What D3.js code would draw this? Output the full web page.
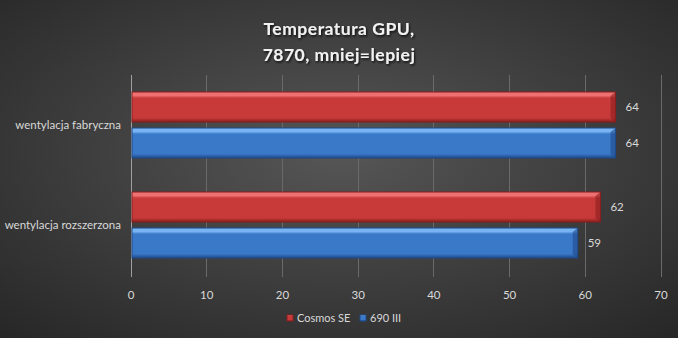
<!DOCTYPE html>
<html>
<head>
<meta charset="utf-8">
<script src="https://cdn.jsdelivr.net/npm/d3@7"></script>
<style>
  html, body { margin: 0; padding: 0; background: #3a3a3a; }
  svg { display: block; }
</style>
</head>
<body>
<div id="chart"></div>
<script>
const width = 678;
const height = 338;

// data
const categories = ["wentylacja fabryczna", "wentylacja rozszerzona"];
const seriesNames = ["Cosmos SE", "690 III"];
const cosmosValues = [64, 62];
const iiiValues = [64, 59];
const xTicks = [0, 10, 20, 30, 40, 50, 60, 70];
const titleLines = ["Temperatura GPU,", "7870, mniej=lepiej"];

const seriesColors = [
  { main: "#c83a3a", light: "#ee7070", dark: "#8a1e1e" },
  { main: "#3a78c8", light: "#78b4f2", dark: "#1e4a8a" }
];

const margin = { top: 75, right: 17, bottom: 63, left: 131 };
const font = "Lato, 'Open Sans', sans-serif";

const svg = d3.select("#chart")
  .append("svg")
    .attr("width", width)
    .attr("height", height);

const defs = svg.append("defs");

// background radial gradient
const bg = defs.append("radialGradient")
  .attr("id", "bg")
  .attr("cx", "50%").attr("cy", "45%").attr("r", "75%");
bg.append("stop").attr("offset", "0%").attr("stop-color", "#565656");
bg.append("stop").attr("offset", "100%").attr("stop-color", "#262626");

svg.append("rect")
  .attr("width", width)
  .attr("height", height)
  .attr("fill", "url(#bg)");

// bar gradients
seriesColors.forEach(function(c, i) {
  const g = defs.append("linearGradient")
    .attr("id", "bar" + i)
    .attr("x1", 0).attr("y1", 0).attr("x2", 0).attr("y2", 1);
  g.append("stop").attr("offset", "0%").attr("stop-color", c.light);
  g.append("stop").attr("offset", "12%").attr("stop-color", c.light);
  g.append("stop").attr("offset", "20%").attr("stop-color", c.main);
  g.append("stop").attr("offset", "86%").attr("stop-color", c.main);
  g.append("stop").attr("offset", "100%").attr("stop-color", c.dark);
});

const shadow = defs.append("filter").attr("id", "tshadow")
  .attr("x", "-10%").attr("y", "-20%").attr("width", "120%").attr("height", "150%");
shadow.append("feDropShadow")
  .attr("dx", 1).attr("dy", 1.5).attr("stdDeviation", 1)
  .attr("flood-color", "#000").attr("flood-opacity", 0.8);

/* ------------- scales ------------- */
const x = d3.scaleLinear()
  .domain([0, 70])
  .range([margin.left, width - margin.right]);

const y = d3.scaleBand()
  .domain(categories)
  .range([margin.top, height - margin.bottom]);

const inner = d3.scaleBand()
  .domain(seriesNames)
  .range([0, y.bandwidth()])
  .paddingInner(0.167)
  .paddingOuter(0.472);

// gridlines
svg.append("g")
  .selectAll("line")
  .data(xTicks.slice(1))
  .join("line")
    .attr("x1", d => x(d))
    .attr("x2", d => x(d))
    .attr("y1", margin.top)
    .attr("y2", height - margin.bottom + 2)
    .attr("stroke", "#6a6a6a")
    .attr("stroke-width", 1)
    .attr("shape-rendering", "crispEdges");

// axis line
svg.append("line")
  .attr("x1", x(0)).attr("x2", x(0))
  .attr("y1", margin.top).attr("y2", height - margin.bottom + 2)
  .attr("stroke", "#a0a0a0")
  .attr("shape-rendering", "crispEdges");

// x tick labels
svg.append("g")
  .selectAll("text")
  .data(xTicks)
  .join("text")
    .attr("x", d => x(d))
    .attr("y", 299)
    .attr("text-anchor", "middle")
    .attr("font-family", font)
    .attr("font-size", 11.5)
    .attr("fill", "#d9d9d9")
    .text(d => d);

// category labels
svg.append("g")
  .selectAll("text")
  .data(categories)
  .join("text")
    .attr("x", 121)
    .attr("y", d => y(d) + y.bandwidth() / 2 + 4)
    .attr("text-anchor", "end")
    .attr("font-family", font)
    .attr("font-size", 11.5)
    .attr("fill", "#d9d9d9")
    .text(d => d);

/* ------------- bars ------------- */
const rows = [];
categories.forEach(function(c, i) {
  rows.push({ cat: c, s: 0, name: seriesNames[0], v: cosmosValues[i] });
  rows.push({ cat: c, s: 1, name: seriesNames[1], v: iiiValues[i] });
});

const bars = svg.append("g")
  .selectAll("g")
  .data(rows)
  .join("g")
    .attr("transform", d => `translate(0,${y(d.cat) + inner(d.name)})`);

bars.append("rect")
  .attr("x", x(0) + 1)
  .attr("y", 0)
  .attr("width", d => x(d.v) - x(0) - 1)
  .attr("height", inner.bandwidth())
  .attr("fill", d => "url(#bar" + d.s + ")")
  .attr("stroke", d => seriesColors[d.s].dark)
  .attr("stroke-width", 1);

// right bevel
bars.append("path")
  .attr("d", d => {
    const xe = x(d.v), h = inner.bandwidth();
    return `M${xe - 5},${4} L${xe},${0} L${xe},${h} L${xe - 5},${h - 4} Z`;
  })
  .attr("fill", d => seriesColors[d.s].dark)
  .attr("opacity", 0.6);

bars.append("text")
  .attr("x", d => x(d.v) + 10)
  .attr("y", inner.bandwidth() / 2 + 4)
  .attr("font-family", font)
  .attr("font-size", 11.5)
  .attr("fill", "#d9d9d9")
  .text(d => d.v);

/* ------------- title ------------- */
svg.append("g")
  .attr("filter", "url(#tshadow)")
  .selectAll("text")
  .data(titleLines)
  .join("text")
    .attr("x", width / 2)
    .attr("y", (d, i) => 35 + i * 26)
    .attr("text-anchor", "middle")
    .attr("font-family", font)
    .attr("font-weight", "bold")
    .attr("font-size", 17.5)
    .attr("letter-spacing", 0.5)
    .attr("fill", "#f2f2f2")
    .text(d => d);

/* ------------- legend ------------- */
const legend = svg.append("g");
const legendX = [300, 373];
seriesNames.forEach(function(n, i) {
  legend.append("rect")
    .attr("x", legendX[i] - 13)
    .attr("y", 315)
    .attr("width", 6).attr("height", 6)
    .attr("fill", "url(#bar" + i + ")")
    .attr("stroke", seriesColors[i].dark);
  legend.append("text")
    .attr("x", legendX[i] - 3)
    .attr("y", 322)
    .attr("font-family", font)
    .attr("font-size", 11)
    .attr("fill", "#d9d9d9")
    .text(n);
});
</script>
</body>
</html>
